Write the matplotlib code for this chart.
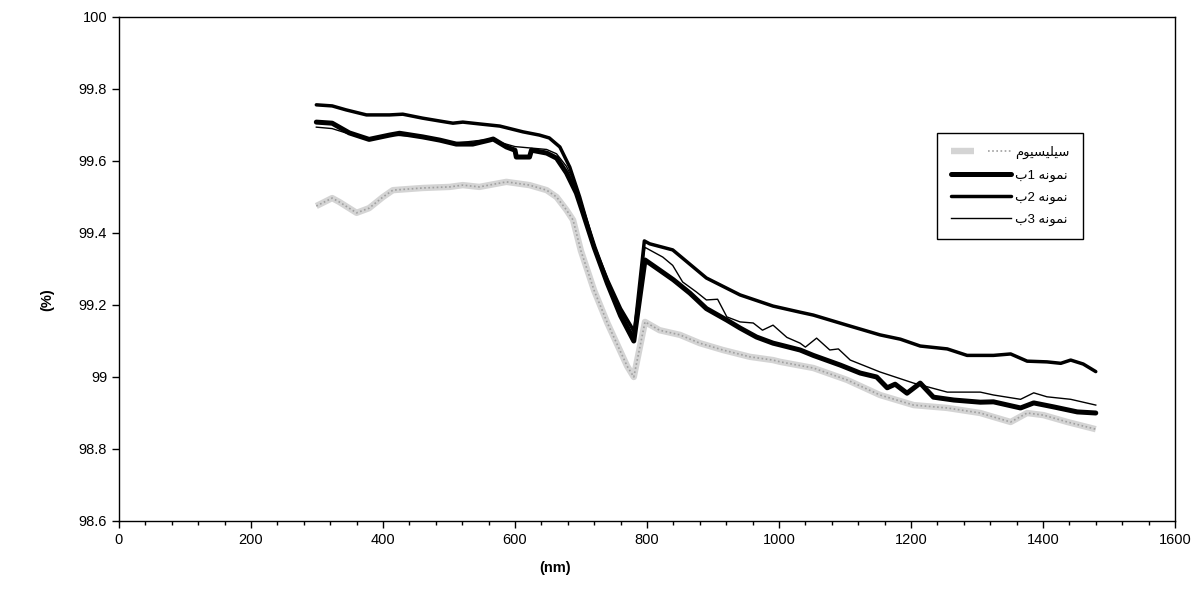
import numpy as np
import matplotlib
matplotlib.use('Agg')
import matplotlib.pyplot as plt
from matplotlib.ticker import MultipleLocator, FuncFormatter
from matplotlib.legend_handler import HandlerTuple

plt.rcParams['font.family'] = ['Liberation Sans', 'DejaVu Sans']

# data (wavelength nm, value %)
si_x = [299, 323, 334, 360, 379, 400, 415, 460, 501, 521, 546, 587, 622, 648, 663, 678, 688, 700,
        720, 740, 760, 770, 780, 797, 819, 850, 880, 915, 956, 991, 1002, 1052, 1103, 1153, 1204,
        1255, 1305, 1325, 1351, 1376, 1401, 1437, 1480]
si_y = [99.475, 99.497, 99.486, 99.456, 99.469, 99.50, 99.519, 99.525, 99.528, 99.533, 99.528,
        99.542, 99.533, 99.519, 99.50, 99.464, 99.436, 99.35, 99.24, 99.15, 99.07, 99.03, 99.0,
        99.153, 99.13, 99.117, 99.094, 99.075, 99.056, 99.047, 99.042, 99.025, 98.992, 98.95,
        98.922, 98.914, 98.90, 98.889, 98.875, 98.90, 98.894, 98.875, 98.855]

s1_x = [299, 323, 349, 379, 410, 425, 460, 486, 511, 536, 561, 567, 587, 600, 602, 622, 625, 648,
        663, 678, 693, 703, 720, 740, 760, 780, 797, 819, 840, 865, 890, 921, 941, 966, 991, 1002,
        1032, 1052, 1093, 1123, 1148, 1164, 1176, 1194, 1214, 1234, 1265, 1305, 1325, 1366, 1386,
        1416, 1452, 1480]
s1_y = [99.708, 99.705, 99.678, 99.66, 99.672, 99.677, 99.667, 99.658, 99.647, 99.647, 99.658,
        99.661, 99.639, 99.63, 99.611, 99.611, 99.63, 99.622, 99.608, 99.567, 99.511, 99.456,
        99.36, 99.26, 99.17, 99.10, 99.325, 99.297, 99.27, 99.233, 99.19, 99.158, 99.136, 99.111,
        99.094, 99.089, 99.075, 99.06, 99.033, 99.011, 99.0, 98.97, 98.98, 98.955, 98.983, 98.944,
        98.936, 98.93, 98.931, 98.914, 98.928, 98.917, 98.903, 98.90]

s2_x = [299, 323, 344, 375, 410, 430, 460, 486, 506, 521, 546, 577, 612, 637, 652, 668, 683, 698,
        708, 720, 740, 760, 781, 796, 804, 839, 890, 941, 991, 1032, 1052, 1103, 1153, 1184, 1214,
        1255, 1285, 1325, 1351, 1376, 1406, 1427, 1442, 1461, 1480]
s2_y = [99.756, 99.753, 99.742, 99.728, 99.728, 99.730, 99.719, 99.711, 99.705, 99.708, 99.703,
        99.697, 99.681, 99.672, 99.664, 99.639, 99.583, 99.50, 99.436, 99.36, 99.27, 99.19,
        99.125, 99.378, 99.37, 99.353, 99.275, 99.228, 99.197, 99.18, 99.172, 99.144, 99.117,
        99.105, 99.086, 99.078, 99.06, 99.06, 99.064, 99.044, 99.042, 99.038, 99.047, 99.036,
        99.015]

s3_x = [299, 323, 349, 379, 410, 460, 511, 561, 600, 648, 663, 678, 693, 703, 720, 740, 760, 780,
        797, 804, 824, 839, 854, 875, 890, 907, 921, 941, 961, 975, 991, 1012, 1032, 1040, 1057,
        1077, 1090, 1108, 1153, 1204, 1255, 1305, 1325, 1366, 1386, 1406, 1442, 1480]
s3_y = [99.694, 99.69, 99.675, 99.662, 99.672, 99.668, 99.65, 99.66, 99.64, 99.632, 99.62, 99.585,
        99.53, 99.47, 99.37, 99.27, 99.18, 99.115, 99.36, 99.353, 99.333, 99.31, 99.264, 99.236,
        99.214, 99.216, 99.167, 99.153, 99.15, 99.13, 99.144, 99.11, 99.094, 99.083, 99.108,
        99.075, 99.078, 99.047, 99.014, 98.983, 98.958, 98.958, 98.95, 98.938, 98.956, 98.945,
        98.938, 98.922]

# persian labels, written in visual order with presentation forms
label_si = '\uFEE1\uFEEE\uFBFF\uFEB4\uFBFF\uFEE0\uFBFF\uFEB3'
sample_word = '\uFEEA\uFEE7\uFEEE\uFEE4\uFEE7'
label_s1 = '\uFE8F1 ' + sample_word
label_s2 = '\uFE8F2 ' + sample_word
label_s3 = '\uFE8F3 ' + sample_word

fig = plt.figure(figsize=(11.97, 5.94), dpi=100)
ax = fig.add_axes([0.0994, 0.1229, 0.8822, 0.8485])

si_bg, = ax.plot(si_x, si_y, color='#d4d4d4', lw=4.6, solid_capstyle='butt')
si_dot, = ax.plot(si_x, si_y, color='#a0a0a0', lw=1.2, ls=(0, (1, 1.5)))
l1, = ax.plot(s1_x, s1_y, color='black', lw=3.6, solid_capstyle='round')
l2, = ax.plot(s2_x, s2_y, color='black', lw=2.5, solid_capstyle='round')
l3, = ax.plot(s3_x, s3_y, color='black', lw=1.0)

ax.set_xlim(0, 1600)
ax.set_ylim(98.6, 100)
ax.xaxis.set_major_locator(MultipleLocator(200))
ax.xaxis.set_minor_locator(MultipleLocator(40))
ax.yaxis.set_major_locator(MultipleLocator(0.2))
ax.yaxis.set_major_formatter(FuncFormatter(lambda v, p: '%g' % round(v, 1)))
ax.tick_params(axis='both', which='major', direction='out', length=5, width=1, labelsize=10.5,
               colors='black')
ax.tick_params(axis='x', which='minor', direction='out', length=3, width=1)
for sp in ax.spines.values():
    sp.set_linewidth(1.0)
    sp.set_color('black')

ax.set_xlabel('(nm)', fontsize=10.5, fontweight='bold')
ax.xaxis.set_label_coords(0.413, -0.079)
ax.set_ylabel('(%)', fontsize=10.5, fontweight='bold')
ax.yaxis.set_label_coords(-0.061, 0.44)

leg = ax.legend([(si_bg, si_dot), l1, l2, l3], [label_si, label_s1, label_s2, label_s3],
                handler_map={tuple: HandlerTuple(ndivide=None)},
                loc='upper left', bbox_to_anchor=(0.775, 0.770), borderaxespad=0,
                fontsize=9.5, handlelength=4.6, labelspacing=0.75, borderpad=1.0,
                handletextpad=0.3, fancybox=False, framealpha=1, edgecolor='black')
leg.get_frame().set_linewidth(1.0)

plt.savefig('out.png', dpi=100)
